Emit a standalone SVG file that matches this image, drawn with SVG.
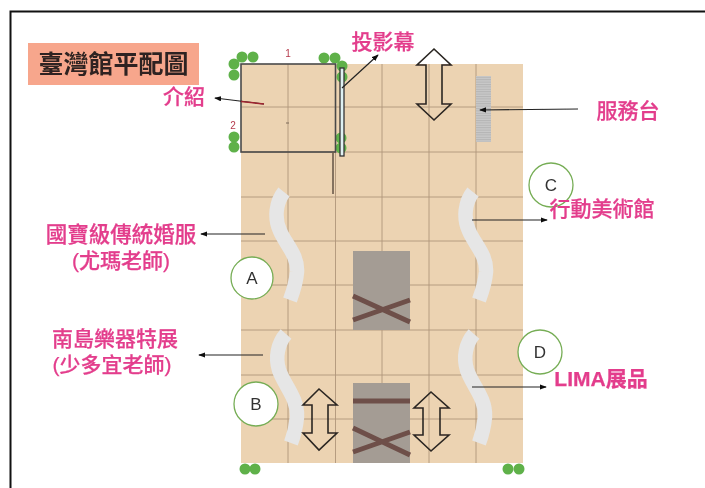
<svg xmlns="http://www.w3.org/2000/svg" width="705" height="488" viewBox="0 0 705 488">
<style>
text{font-family:"Liberation Sans","Noto Sans CJK TC",sans-serif}
.lbl{fill:#e33d8c;font-size:21px;font-weight:500;text-anchor:middle;stroke:#e33d8c;stroke-width:.25}
.grid{stroke:#b0957a;stroke-width:.9;fill:none}
.wall{fill:none;stroke:#e6e6e6;stroke-width:14.500}
.dot{fill:#5eb14a}
.circle{fill:#fff;stroke:#76ad55;stroke-width:1.300}
.letter{fill:#333;font-size:17px;text-anchor:middle}
.dbl{fill:none;stroke:#2b2622;stroke-width:1.600}
.ramp{fill:#a49c94}
.beam{stroke:#6e4f48;stroke-width:5;fill:none}
.arrow{stroke:#222;stroke-width:1.200;fill:none;marker-end:url(#ah)}
.num{fill:#b5394c;font-size:10px;text-anchor:middle}
</style>
<defs>
<marker id="ah" viewBox="0 0 8 6" refX="7" refY="3" markerWidth="7" markerHeight="5.500" markerUnits="userSpaceOnUse" orient="auto"><path d="M0 0L8 3L0 6z" fill="#111"/></marker>
<pattern id="stripes" width="4" height="2.400" patternUnits="userSpaceOnUse"><rect width="4" height="2.400" fill="#c9c9c9"/><rect width="4" height="1" fill="#b4b4b4"/></pattern>
<filter id="soft" x="-2%" y="-2%" width="104%" height="104%"><feGaussianBlur stdDeviation="0.45"/></filter>
</defs>
<rect width="705" height="488" fill="#fff"/>
<path d="M10.500 488V11.500H705" fill="none" stroke="#111" stroke-width="2"/>
<g filter="url(#soft)">
<g id="floor">
<rect x="241" y="64" width="282" height="399" fill="#ecd3b2"/>
<path class="grid" d="M288 64V463M335.500 64V463M382 64V463M429 64V463M476 64V463M241 107H523M241 152H523M241 197H523M241 241H523M241 285H523M241 330H523M241 375H523M241 419H523"/>
</g>
<g id="green-dots">
<circle class="dot" cx="242" cy="57" r="5.500"/><circle class="dot" cx="253" cy="57" r="5.500"/>
<circle class="dot" cx="324" cy="58" r="5.500"/><circle class="dot" cx="335" cy="58" r="5.500"/>
<circle class="dot" cx="234" cy="64" r="5.500"/><circle class="dot" cx="234" cy="75" r="5.500"/>
<circle class="dot" cx="234" cy="137" r="5.500"/><circle class="dot" cx="234" cy="147" r="5.500"/>
<circle class="dot" cx="342" cy="66" r="5.500"/><circle class="dot" cx="342" cy="77" r="5.500"/>
<circle class="dot" cx="341" cy="138" r="5.500"/><circle class="dot" cx="341" cy="148" r="5.500"/>
<circle class="dot" cx="245" cy="469" r="5.500"/><circle class="dot" cx="255" cy="469" r="5.500"/>
<circle class="dot" cx="508" cy="469" r="5.500"/><circle class="dot" cx="519" cy="469" r="5.500"/>
</g>
<g id="intro-room">
<rect x="241" y="64" width="94.500" height="88" fill="none" stroke="#4a4a4a" stroke-width="1.600"/>
<path d="M333 152V194" stroke="#6b5a4a" stroke-width="1.600" fill="none"/>
<path d="M286 123H289" stroke="#7d6a58" stroke-width="1"/>
<text class="num" x="288" y="57">1</text>
<text class="num" x="233" y="129">2</text>
</g>
<g id="screen"><rect x="340" y="68" width="4" height="88" fill="#dff1f2" stroke="#333" stroke-width="1.300"/></g>
<g id="service-desk"><rect x="476" y="76" width="15" height="66" fill="url(#stripes)"/></g>
<g id="walls">
<path id="wall-a" class="wall" d="M284 192C276 202 274 218 280 231C286 245 298 255 297 272C296 284 293 292 290 300"/>
<path id="wall-c" class="wall" d="M473 192C465 202 463 218 469 231C475 245 487 255 486 272C485 284 482 292 479 300"/>
<path id="wall-b" class="wall" d="M286 334C278 343 275 357 279 370C284 385 298 398 297 417C296 427 294 435 291 443"/>
<path id="wall-d" class="wall" d="M474 334C466 343 463 357 467 370C472 385 486 398 485 417C484 427 482 435 479 443"/>
</g>
<g id="ramp-1">
<rect class="ramp" x="353" y="251" width="57" height="79"/>
<path class="beam" d="M353 296L410 322M353 320L410 300"/>
</g>
<g id="ramp-2">
<rect class="ramp" x="353" y="383" width="57" height="80"/>
<path class="beam" d="M353 401H410M353 428L410 455M353 452L410 432"/>
</g>
<g id="double-arrows">
<path class="dbl" d="M434 49L451 65H442V104H451L434 120L417 104H426V65H417Z"/>
<path class="dbl" d="M319 389L337 405H328V433H337L319 450L303 433H312V405H303Z"/>
<path class="dbl" d="M431 392L449 408H440V435H449L431 451L414 435H423V408H414Z"/>
</g>
<g id="node-a"><circle class="circle" cx="252" cy="278" r="21"/><text class="letter" x="252" y="284">A</text></g>
<g id="node-b"><circle class="circle" cx="256" cy="404" r="22"/><text class="letter" x="256" y="410">B</text></g>
<g id="node-c"><circle class="circle" cx="551" cy="185" r="22"/><text class="letter" x="551" y="191">C</text></g>
<g id="node-d"><circle class="circle" cx="540" cy="352" r="22"/><text class="letter" x="540" y="358">D</text></g>
<g id="connectors">
<path class="arrow" d="M264 104L215 98"/>
<path d="M241 101.500L264 104" stroke="#a02530" stroke-width="1.500" fill="none"/>
<path class="arrow" d="M342 88L378 55"/>
<path class="arrow" d="M578 109L480 110"/>
<path class="arrow" d="M472 220L547 220"/>
<path class="arrow" d="M265 234L201 234"/>
<path class="arrow" d="M263 355L199 355"/>
<path class="arrow" d="M472 387L546 387"/>
</g>
<g id="title">
<rect x="28" y="43" width="171" height="42" fill="#f7a68c"/>
<text x="113.500" y="73" font-size="25" font-weight="700" fill="#2e2420" text-anchor="middle">臺灣館平配圖</text>
</g>
<g id="labels">
<text class="lbl" x="184" y="104">介紹</text>
<text class="lbl" x="383" y="49">投影幕</text>
<text class="lbl" x="628" y="118">服務台</text>
<text class="lbl" x="602" y="216">行動美術館</text>
<text class="lbl" x="121" y="242" style="font-size:21.500px">國寶級傳統婚服</text>
<text class="lbl" x="121" y="268">(尤瑪老師)</text>
<text class="lbl" x="115" y="346">南島樂器特展</text>
<text class="lbl" x="112" y="372">(少多宜老師)</text>
<text class="lbl" x="601" y="386" style="font-weight:700">LIMA展品</text>
</g>
</g>
</svg>
